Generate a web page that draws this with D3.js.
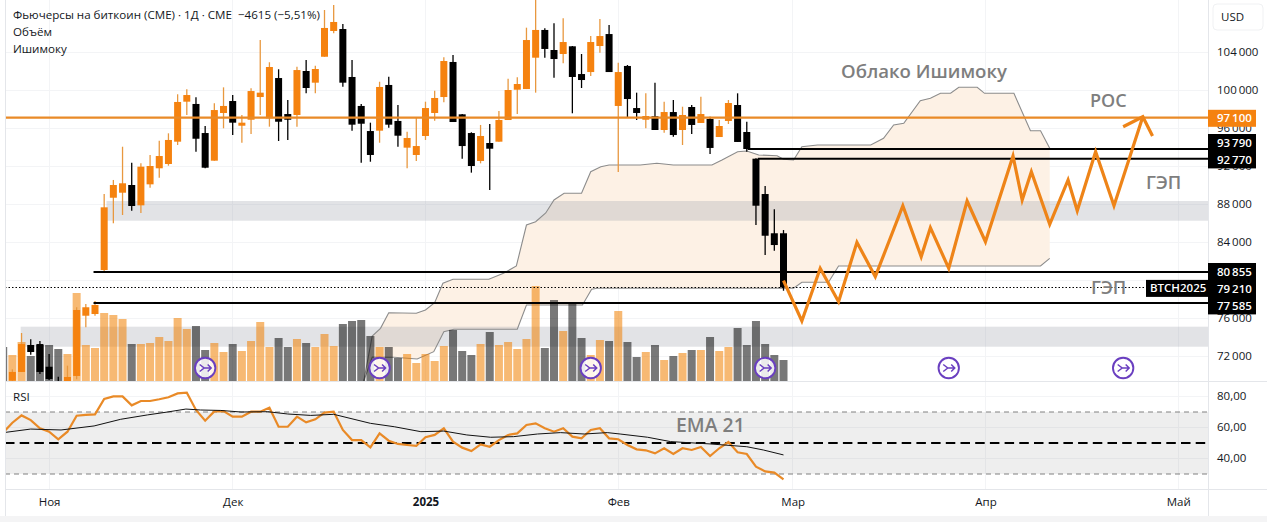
<!DOCTYPE html>
<html><head><meta charset="utf-8">
<script src="https://cdnjs.cloudflare.com/ajax/libs/d3/7.8.5/d3.min.js"></script>
<style>
html,body{margin:0;padding:0;background:#fff;overflow:hidden}
svg{display:block}
text{font-family:"Open Sans","Noto Sans",sans-serif}
</style></head><body>
<svg id="c" width="1267" height="522"></svg>
<script>
// --- data ---
const candleOpen=[69000,69400,70320,73160,73260,70870,69260,69050,69900,76240,76420,81050,88660,89190,90000,87860,90070,91760,92210,94560,98770,98530,95470,92560,97580,98840,96240,96870,99260,97020,101260,97470,97370,102000,100770,103500,106210,106420,101370,98320,95680,95720,100530,96740,93930,93160,95160,97580,99260,102950,97440,95470,92530,94420,94560,96840,100030,100100,103400,106320,104210,103790,104600,101680,101890,104630,105890,98320,102530,98100,96870,97230,95790,97680,95790,98210,96530,96950,95050,96740,98420,95580,92770,89050,84920,84920];
const candleClose=[68500,70320,73260,72420,70320,69580,68840,69790,76840,77130,77370,87650,90000,90180,87790,91930,92000,93050,94740,98740,99470,94870,91820,97890,98320,96560,96560,99890,99720,102420,96660,96870,102100,100210,102210,106530,107160,100770,96350,96450,93160,100320,96350,95190,94950,94100,98100,99160,103050,96630,94100,92000,95160,93820,96840,100000,100630,105260,106320,104320,103260,105050,101370,101050,105050,105680,101890,101890,99050,97580,97260,95790,97680,95260,97370,96320,97470,93900,96210,98630,94530,93790,87820,84660,83680,79210];
const candleHigh=[69200,70600,74420,73760,73580,72210,69820,70980,77130,77470,77790,89050,90530,94030,92350,92280,93160,94660,95440,99550,100070,99230,96210,98600,100280,99470,97370,100180,105260,102920,102180,98950,102450,103160,102560,108420,108950,106950,103160,98530,96560,100870,101400,98420,95610,97160,98770,99930,103440,103680,97470,95550,96320,96420,97790,101190,101340,106560,109500,106490,107020,107550,104630,103790,105680,107470,106840,102870,102630,99720,99650,100770,98770,98950,98240,98420,99290,97190,96840,98950,99650,96660,92810,89900,87440,85260];
const candleLow=[68300,69260,70320,72140,70110,69470,68630,68950,69550,75020,76240,80770,85970,86840,87300,87050,89720,90770,92030,94210,97370,93500,91760,92560,95970,95260,94450,95370,97370,96140,94630,94740,96140,99650,99650,103500,105970,100350,95720,92350,92450,94450,96030,94030,91760,92530,94740,96770,98700,96630,92770,91300,92280,89470,94560,96840,97470,100100,99720,103400,101290,102810,97550,100210,101470,103930,101890,91370,97130,96840,95970,95790,95500,95080,94210,95370,96530,93260,95050,96420,94530,93500,85790,82630,83080,78870];
const volumes=[34,26,39,25,36,36,32,27,88,36,33,68,66,62,37,37,38,44,40,63,52,55,31,38,29,37,30,40,59,34,43,34,42,38,34,47,35,57,60,61,45,34,34,23,27,18,27,20,35,51,30,26,37,49,36,39,32,42,95,33,81,50,78,43,26,41,40,70,39,24,29,36,21,25,28,31,31,44,30,34,53,36,60,37,26,21];
const volumeUp=[0,1,1,0,0,0,0,1,1,1,1,1,1,1,0,1,1,1,1,1,1,0,0,1,1,0,1,1,1,1,0,0,1,0,1,1,1,0,0,0,0,1,0,0,1,1,1,1,1,0,0,0,1,0,1,1,1,1,1,0,0,1,0,0,1,1,0,1,0,0,1,0,1,0,1,0,1,0,1,1,0,0,0,0,0,0];
const rsiValues=[56.7,63.1,67.8,64.8,59.5,57.3,52.4,57.3,67.6,68.1,68.5,78.4,80.1,80.1,74.3,77.1,77.1,78.2,79.5,82,82.5,71.3,64.4,70.4,70.6,67,67,70.2,70.2,72.8,60.5,60.5,67,63.3,65.3,69.6,70.2,58.4,51.9,51.9,47.2,56.2,51.5,49.4,48.7,48.1,53.7,55.2,59.5,50.9,47,44.8,49.1,47.6,51.9,55.2,56.2,61.6,62.7,59.5,57.3,59.5,54.1,53,58.4,59.5,53,52.4,48.7,45.9,45.3,43.3,46.6,42.9,46.6,45.5,47.4,41.6,46.6,50.6,44,42.9,34.7,31.7,30.9,26.6];
const emaIndex=[0.3,3,6.3,9.9,12.8,15.7,17.9,19.9,21.5,23.7,25.9,28.8,31,33.5,36,40,42.6,45.5,48,50.5,53.1,55.6,58.2,60.7,63.3,65.8,67.2,70.2,72.7,77,81,82.8,85];
const emaValues=[56.9,59,58.4,61,65.3,68.1,70,71.9,71.3,71,70,70.2,68.7,67.8,68.5,62.7,60.5,57.3,57.7,55.2,53.7,54.1,55.8,56.7,55.8,56.7,55.8,53.7,50.9,49.4,47.6,45.5,42.3];
const cloudUpperIndex=[39.28,40.2,41.1,42,45,46,47,47.9,49,52.9,54.5,55.9,57,58,59.1,60,61.1,63,64,65.1,66,69.4,71.2,73,77.2,78.3,80,81,82.3,84.3,85,86.1,87,88.7,94.5,95.9,97,98.1,99.9,101,102.1,103.2,104.1,106.1,106.9,110.1,111.9,113,114];
const cloudUpper=[69370,74106,74916,76558,76495,76842,77611,79653,80074,80074,80705,81474,85789,86137,87053,88421,89126,89126,91400,91926,92105,92105,92284,92105,92105,92631,93505,93579,93158,93084,92705,92631,94031,94210,94210,94915,96315,96494,98873,99126,99652,99652,100284,100284,99652,99652,95715,95715,93863];
const cloudLowerIndex=[39.28,40.2,42.6,45.1,46.9,48,49.1,56,57,63.1,64.1,64.7,86.1,87,89.9,91,113,114];
const cloudLower=[69370,71895,71864,71685,72453,74558,74811,74811,77369,77369,79021,79127,79127,79758,79758,81474,81474,82284];
const forecastIndex=[85,87,89,91,93,95,98,100,101,103,105,107,110,111,112,114,116,117,119,121,124.14];
const forecastPrice=[79927,75685,81232,77716,83968,80347,87821,82453,85505,81232,88316,84032,93052,88421,91400,85863,90526,87295,93505,87821,97189];
const arrowIndex=[122,124.14,125.2];
const arrowPrice=[96137,97189,95157];
const eventIndex=[22,41,64,83,103,122];
const bandsPrice=[[88315,86242,11.25],[75084,72979,1.9]];
const levelPrice=[93790,92770,80855,77585];
const levelStart=[81.1,82.2,9.84,9.84];
const pocPrice=97100, lastPrice=79210;
const gridPrices=[72000,76000,80000,84000,88000,92000,96000,100000,104000];
const priceTicks=[72000,76000,84000,88000,92000,96000,100000,104000];
const rsiTicks=[40,60,80];
const monthIndex=[5,25,46,67,86,107,128];
const monthLabels=["Ноя","Дек","2025","Фев","Мар","Апр","Май"];

// --- layout ---
const L=5,R=1208,T=0,PB=381,RB=489,AB=516;
const x=d3.scaleLinear().domain([0,130]).range([3.2,3.2+9.18*130]);
const y=d3.scaleLinear().domain([72000,104000]).range([356,52]);
const vy=d3.scaleLinear().domain([0,100]).range([381,281]);
const ry=d3.scaleLinear().domain([30,70]).range([474,412]);
const ORANGE="#f5820f",LINEOR="#e98a27",FORE="#ee8418",GRID="#f3f4f6",SEP="#e4e6ea",GREYT="#7e7e7e",TXT="#131722";
const svg=d3.select("#c");
const defs=svg.append("defs");
defs.append("clipPath").attr("id","pane").append("rect").attr("x",L).attr("y",T).attr("width",R-L).attr("height",PB-T);
defs.append("clipPath").attr("id","rsi").append("rect").attr("x",L).attr("y",PB).attr("width",R-L).attr("height",RB-PB);

// grid
const grid=svg.append("g").attr("stroke",GRID).attr("stroke-width",1).attr("shape-rendering","crispEdges");
monthIndex.forEach(m=>grid.append("line").attr("x1",x(m)).attr("x2",x(m)).attr("y1",T).attr("y2",RB));
gridPrices.forEach(p=>grid.append("line").attr("x1",L).attr("x2",R).attr("y1",y(p)).attr("y2",y(p)));
rsiTicks.forEach(r=>grid.append("line").attr("x1",L).attr("x2",R).attr("y1",ry(r)).attr("y2",ry(r)));

const pane=svg.append("g").attr("clip-path","url(#pane)");
// cloud
const area=[];
cloudUpperIndex.forEach((k,i)=>area.push([x(k),y(cloudUpper[i])]));
const lowPts=cloudLowerIndex.map((k,i)=>[x(k),y(cloudLower[i])]);
pane.append("path").attr("d",d3.line()(area.concat(lowPts.slice().reverse()))+"Z").attr("fill","#fdf1e5");
// bands
bandsPrice.forEach(b=>pane.append("rect").attr("x",x(b[2])).attr("width",R-x(b[2])).attr("y",y(b[0])).attr("height",y(b[1])-y(b[0])).attr("fill","#9ea3ad").attr("fill-opacity",0.3));
// cloud outlines
const ln=d3.line();
pane.append("path").attr("d",ln(area)).attr("fill","none").attr("stroke","#8c8c8c").attr("stroke-width",1.1);
pane.append("path").attr("d",ln(lowPts)).attr("fill","none").attr("stroke","#8c8c8c").attr("stroke-width",1.1);
// volumes
pane.selectAll("rect.v").data(volumes).join("rect").attr("class","v")
  .attr("x",(d,i)=>x(i)-4).attr("width",8).attr("y",d=>vy(d)).attr("height",d=>vy(0)-vy(d))
  .attr("fill",(d,i)=>volumeUp[i]?"#f08000":"#000").attr("fill-opacity",(d,i)=>volumeUp[i]?0.55:0.53);
// candles
const cg=pane.append("g");
candleOpen.forEach((o,i)=>{
  const c=candleClose[i],up=c>o,col=up?ORANGE:"#000";
  cg.append("line").attr("x1",x(i)).attr("x2",x(i)).attr("y1",y(candleHigh[i])).attr("y2",y(candleLow[i])).attr("stroke",up?"#e8983f":"#000").attr("stroke-width",1.3);
  cg.append("rect").attr("x",x(i)-3.5).attr("width",7).attr("y",y(Math.max(o,c))).attr("height",Math.max(1.5,Math.abs(y(o)-y(c)))).attr("fill",col);
});
// dotted last price
pane.append("line").attr("x1",L).attr("x2",R).attr("y1",y(lastPrice)).attr("y2",y(lastPrice)).attr("stroke","#000").attr("stroke-width",1).attr("stroke-dasharray","1.5 2");
// levels
levelPrice.forEach((p,i)=>pane.append("line").attr("x1",x(levelStart[i])).attr("x2",R).attr("y1",y(p)).attr("y2",y(p)).attr("stroke","#000").attr("stroke-width",2));
pane.append("line").attr("x1",L).attr("x2",R).attr("y1",y(pocPrice)).attr("y2",y(pocPrice)).attr("stroke",LINEOR).attr("stroke-width",2.2);
// forecast
const fl=d3.line().x(d=>x(d[0])).y(d=>y(d[1]));
pane.append("path").attr("d",fl(forecastIndex.map((k,i)=>[k,forecastPrice[i]]))).attr("fill","none").attr("stroke",FORE).attr("stroke-width",3.2).attr("stroke-linejoin","miter");
pane.append("path").attr("d",fl(arrowIndex.map((k,i)=>[k,arrowPrice[i]]))).attr("fill","none").attr("stroke",FORE).attr("stroke-width",3.2);
// events
eventIndex.forEach(k=>{
  const g=pane.append("g").attr("transform",`translate(${x(k)},368)`);
  g.append("circle").attr("r",10.2).attr("fill","#fff").attr("fill-opacity",0.85).attr("stroke","#6a3fc0").attr("stroke-width",1.9);
  g.append("path").attr("d","M-5.5,-3.5 L-1,0 L-5.5,3.5 M-1,0 L6,0 M2.5,-3.5 L6,0 L2.5,3.5").attr("fill","none").attr("stroke","#6a3fc0").attr("stroke-width",1.5);
});

// RSI pane
const rp=svg.append("g").attr("clip-path","url(#rsi)");
rp.append("rect").attr("x",L).attr("width",R-L).attr("y",ry(70)).attr("height",ry(30)-ry(70)).attr("fill","#787878").attr("fill-opacity",0.13);
[70,30].forEach(r=>rp.append("line").attr("x1",L).attr("x2",R).attr("y1",ry(r)).attr("y2",ry(r)).attr("stroke","#808080").attr("stroke-width",1).attr("stroke-dasharray","5 4"));
rp.append("line").attr("x1",L).attr("x2",R).attr("y1",ry(50)).attr("y2",ry(50)).attr("stroke","#000").attr("stroke-width",2.2).attr("stroke-dasharray","9.5 5.2");
const rl=d3.line().x(d=>x(d[0])).y(d=>ry(d[1]));
rp.append("path").attr("d",rl(rsiValues.map((v,i)=>[i,v]))).attr("fill","none").attr("stroke",LINEOR).attr("stroke-width",2.2);
rp.append("path").attr("d",rl(emaValues.map((v,i)=>[emaIndex[i],v]))).attr("fill","none").attr("stroke","#111").attr("stroke-width",1);

// frame lines
const fr=svg.append("g").attr("stroke",SEP).attr("shape-rendering","crispEdges");
fr.append("line").attr("x1",L).attr("x2",L).attr("y1",0).attr("y2",AB);
fr.append("line").attr("x1",R).attr("x2",R).attr("y1",0).attr("y2",AB);
fr.append("line").attr("x1",L).attr("x2",1267).attr("y1",PB).attr("y2",PB);
fr.append("line").attr("x1",L).attr("x2",1267).attr("y1",RB).attr("y2",RB);
svg.append("rect").attr("x",0).attr("y",AB).attr("width",1267).attr("height",6).attr("fill","#f4f4f5");

// axes
const fmt=d=>d3.format(",")(d).replace(/,/g,"\u2009");
const pAxis=d3.axisRight(y).tickValues(priceTicks).tickSize(0).tickPadding(9).tickFormat(fmt);
const ga=svg.append("g").attr("transform",`translate(${R},0)`).call(pAxis);
ga.select(".domain").remove();
ga.selectAll("text").attr("font-size",11.5).attr("fill",TXT).style("font-family",'"Open Sans",sans-serif');
const rAxis=d3.axisRight(ry).tickValues(rsiTicks).tickSize(0).tickPadding(9).tickFormat(d=>d+",00");
const gr=svg.append("g").attr("transform",`translate(${R},-1)`).call(rAxis);
gr.select(".domain").remove();
gr.selectAll("text").attr("font-size",11.5).attr("fill",TXT);
const tAxis=d3.axisBottom(x).tickValues(monthIndex).tickSize(0).tickPadding(9).tickFormat((d,i)=>monthLabels[i]);
const gt=svg.append("g").attr("transform",`translate(0,${RB})`).call(tAxis);
gt.select(".domain").remove();
gt.selectAll("text").attr("font-size",11.5).attr("fill",TXT).attr("font-weight",(d,i)=>monthLabels[i]==="2025"?700:400);

// price tags
function tag(x0,w,yc,h,fill,label,anchorX,fw,anchor){
  svg.append("rect").attr("x",x0).attr("y",yc-h/2).attr("width",w).attr("height",h).attr("fill",fill);
  svg.append("text").attr("x",anchorX).attr("y",yc).attr("dy","0.35em").attr("fill","#fff").attr("font-size",11.5).attr("font-weight",fw).attr("text-anchor",anchor||"start").text(label);
}
tag(1208,48,118.3,17,ORANGE,fmt(pocPrice),1217,600);
[[levelPrice[0],142.7],[levelPrice[1],159.7],[levelPrice[2],271.7],[lastPrice,288.7],[levelPrice[3],305.7]].forEach(d=>tag(1208,48,d[1],17.4,"#000",fmt(d[0]),1217,600));
tag(1146,62,288.4,17,"#000","BTCH2025",1150,600);

// USD
svg.append("rect").attr("x",1213).attr("y",4).attr("width",50).attr("height",26).attr("rx",4).attr("fill","#fff").attr("stroke","#f0f1f3");
svg.append("text").attr("x",1221).attr("y",17).attr("dy","0.35em").attr("font-size",11.5).attr("fill",TXT).text("USD");

// header
const hdr=["Фьючерсы на биткоин (CME) · 1Д · CME  −4615 (−5,51%)","Объём","Ишимоку"];
hdr.forEach((s,i)=>svg.append("text").attr("x",13).attr("y",15+17*i).attr("dy","0.35em").attr("font-size",11.6).attr("fill",TXT).style("white-space","pre").text(s));
svg.append("text").attr("x",13).attr("y",397).attr("dy","0.35em").attr("font-size",11.6).attr("fill",TXT).text("RSI");

// annotations
const notes=[["Облако Ишимоку",841,71,18.6],["РОС",1090,101,18],["ГЭП",1146,183,18.3],["ГЭП",1091,288,18.3],["EMA 21",676,425,19.4]];
notes.forEach(n=>svg.append("text").attr("x",n[1]).attr("y",n[2]).attr("dy","0.35em").attr("font-size",n[3]).attr("font-weight",600).attr("fill",GREYT).text(n[0]));
</script></body></html>
